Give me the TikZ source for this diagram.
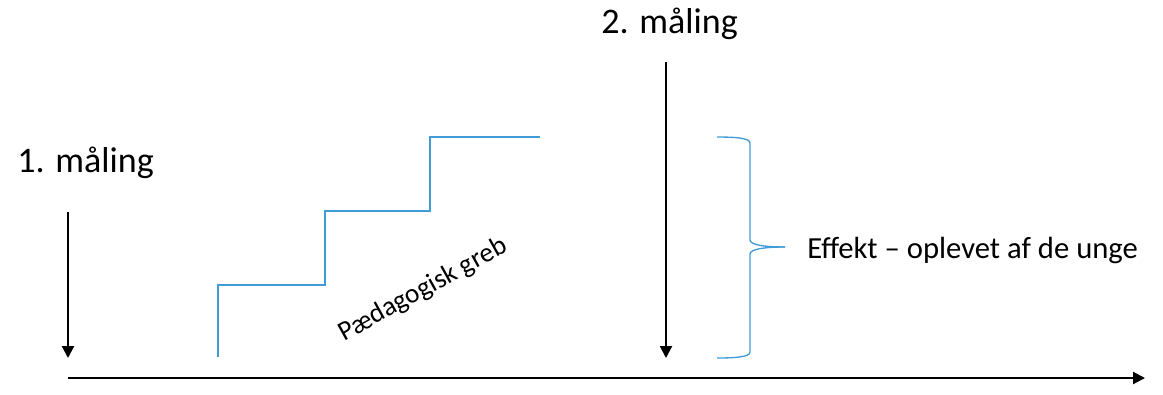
\documentclass[tikz,border=0pt]{standalone}
\usepackage{fontspec}
\setmainfont{Carlito}
\usetikzlibrary{arrows.meta}
\definecolor{stairblue}{RGB}{65,155,215}
\tikzset{
	maalpil/.style={line width=1.6pt, -{Triangle[length=9pt, width=9pt]}},
	trappe/.style={line width=1pt, color=stairblue},
	stortekst/.style={font=\fontsize{27}{30}\selectfont, inner sep=0pt},
	lilletekst/.style={font=\fontsize{23}{27}\selectfont, inner sep=0pt}
}

\begin{document}
\begin{tikzpicture}[x=0.75pt, y=-0.75pt]
			%%%%% START %%%%%
			\useasboundingbox (0, 0) rectangle (1163, 394);
			
			% tidsakse
			\coordinate (akse start) at (68, 378);
			\coordinate (akse slut) at (1145, 378);
			\draw[maalpil] (akse start) -- (akse slut);
			
			% 1. maaling
			\node[stortekst, anchor=base west] (maaling1) at (17, 172) {1. måling};
			\coordinate (pil1 top) at (68, 212);
			\coordinate (pil1 bund) at (68, 358);
			\draw[maalpil] (pil1 top) -- (pil1 bund);
			
			% 2. maaling
			\node[stortekst, anchor=base west] (maaling2) at (601, 33) {2. måling};
			\coordinate (pil2 top) at (666, 62);
			\coordinate (pil2 bund) at (666, 358);
			\draw[maalpil] (pil2 top) -- (pil2 bund);
			
			% trappen
			\draw[trappe] (218, 357) -- (218, 285) -- (325, 285) -- (325, 211)
				-- (430, 211) -- (430, 137) -- (540, 137);
			\node[lilletekst, font=\fontsize{20.5}{24}\selectfont, rotate=29] (greb) at (423, 290) {Pædagogisk greb};
			
			% klammen
			\draw[trappe] (717, 137) .. controls (735, 137) and (750, 138) .. (750, 143)
				-- (750, 240) .. controls (750, 245) and (765, 247) .. (785, 247);
			\draw[trappe] (717, 358) .. controls (735, 358) and (750, 357) .. (750, 352)
				-- (750, 254) .. controls (750, 249) and (765, 247) .. (785, 247);
			\node[lilletekst, anchor=west] (effekt) at (807, 250) {Effekt – oplevet af de unge};
			%%%%% END %%%%%
\end{tikzpicture}
\end{document}
